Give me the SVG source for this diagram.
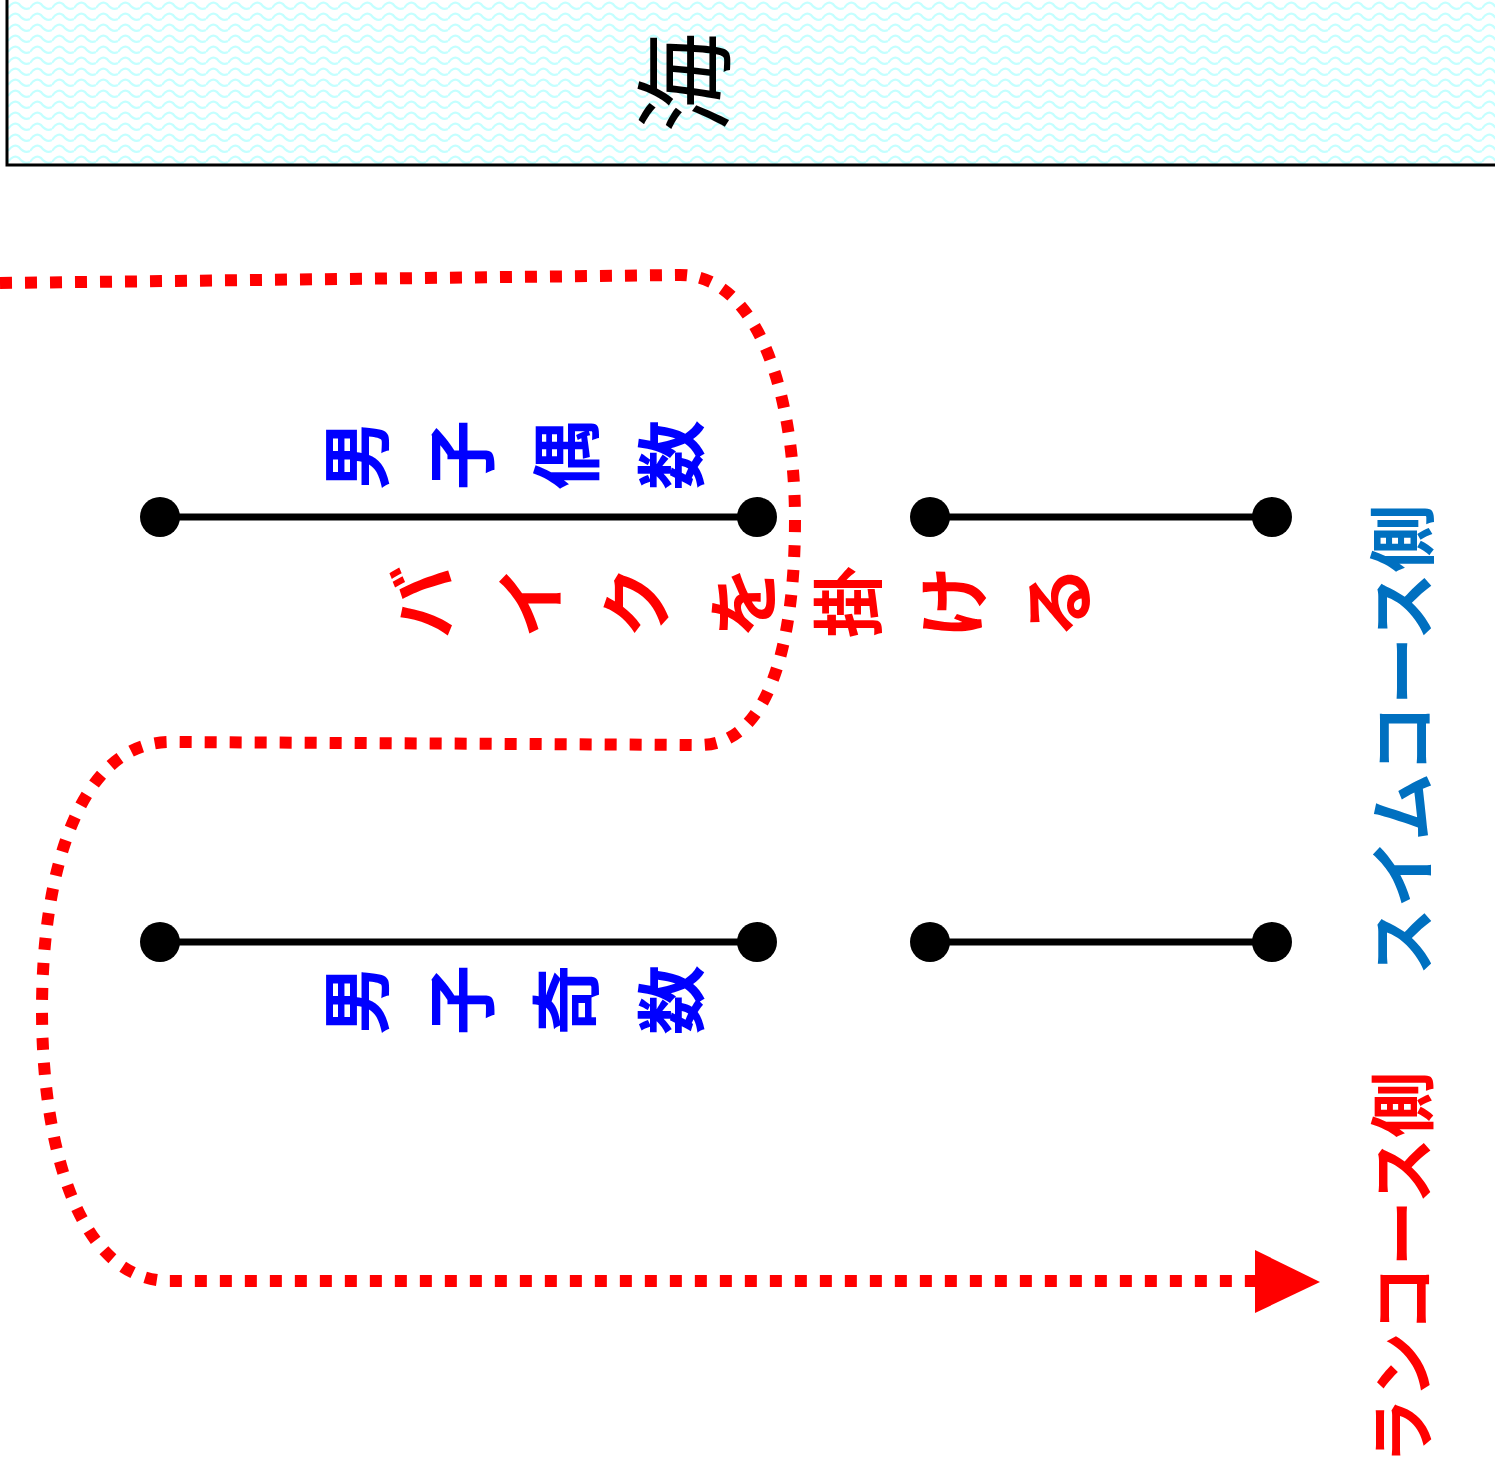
<svg xmlns="http://www.w3.org/2000/svg" width="1495" height="1472" viewBox="0 0 1495 1472">
<style>
.jp{font-family:"Noto Sans CJK JP","Noto Sans CJK SC",sans-serif;font-weight:bold;text-anchor:middle;dominant-baseline:central}
.blue{fill:#0000ff;font-size:70px}
.red{fill:#ff0000;font-size:72px}
.lane{stroke:#000;stroke-width:7;fill:none}
.dot{fill:#000}
.route{stroke:#ff0000;stroke-width:12;fill:none;stroke-dasharray:12 13}
</style>
<defs>
<pattern id="wave" x="8" y="0" width="22" height="11" patternUnits="userSpaceOnUse">
<path d="M0,8 Q5.5,0 11,4 Q16.5,11 22,8" stroke="#c4ffff" stroke-width="2.2" fill="none"/>
</pattern>
</defs>
<rect width="1495" height="1472" fill="#ffffff"/>
<g id="sea">
<rect x="8" y="0" width="1487" height="164" fill="url(#wave)"/>
<path d="M7,0 L7,165 L1495,165" stroke="#000" stroke-width="3" fill="none"/>
<text class="jp" style="font-weight:normal;font-size:100px;fill:#000" transform="translate(678,83) rotate(-90)">海</text>
</g>
<g id="connectors">
<path class="route" d="M0,283 L680,275 C760,275 795,400 795,520 C795,640 770,745 700,745 L170,742 C80,742 42,870 42,1010 C42,1150 80,1281 170,1281 L1256,1281"/>
<polygon points="1255,1250 1320,1282 1255,1313" fill="#ff0000"/>
</g>
<g id="lane-even-left">
<line class="lane" x1="160" y1="517" x2="757" y2="517"/>
<circle class="dot" cx="160" cy="517" r="20"/>
<circle class="dot" cx="757" cy="517" r="20"/>
</g>
<g id="lane-even-right">
<line class="lane" x1="930" y1="517" x2="1272" y2="517"/>
<circle class="dot" cx="930" cy="517" r="20"/>
<circle class="dot" cx="1272" cy="517" r="20"/>
</g>
<g id="lane-odd-left">
<line class="lane" x1="160" y1="942" x2="757" y2="942"/>
<circle class="dot" cx="160" cy="942" r="20"/>
<circle class="dot" cx="757" cy="942" r="20"/>
</g>
<g id="lane-odd-right">
<line class="lane" x1="930" y1="942" x2="1272" y2="942"/>
<circle class="dot" cx="930" cy="942" r="20"/>
<circle class="dot" cx="1272" cy="942" r="20"/>
</g>
<g id="label-even">
<text class="jp blue" transform="translate(352,455) rotate(-90)">男</text>
<text class="jp blue" transform="translate(457,455) rotate(-90)">子</text>
<text class="jp blue" transform="translate(562,455) rotate(-90)">偶</text>
<text class="jp blue" transform="translate(667,455) rotate(-90)">数</text>
</g>
<g id="label-odd">
<text class="jp blue" transform="translate(352,1000) rotate(-90)">男</text>
<text class="jp blue" transform="translate(457,1000) rotate(-90)">子</text>
<text class="jp blue" transform="translate(562,1000) rotate(-90)">奇</text>
<text class="jp blue" transform="translate(667,1000) rotate(-90)">数</text>
</g>
<g id="label-bike">
<text class="jp red" transform="translate(418,602) rotate(-90)">バ</text>
<text class="jp red" transform="translate(525,602) rotate(-90)">イ</text>
<text class="jp red" transform="translate(631,602) rotate(-90)">ク</text>
<text class="jp red" transform="translate(738,602) rotate(-90)">を</text>
<text class="jp red" transform="translate(843,602) rotate(-90)">掛</text>
<text class="jp red" transform="translate(948,602) rotate(-90)">け</text>
<text class="jp red" transform="translate(1053,602) rotate(-90)">る</text>
</g>
<g id="label-swim">
<text class="jp" style="fill:#0070c0;font-size:68px" transform="translate(1398,740) rotate(-90)">スイムコース側</text>
</g>
<g id="label-run">
<text class="jp" style="fill:#ff0000;font-size:66px" transform="translate(1398,1268) rotate(-90)">ランコース側</text>
</g>
</svg>
